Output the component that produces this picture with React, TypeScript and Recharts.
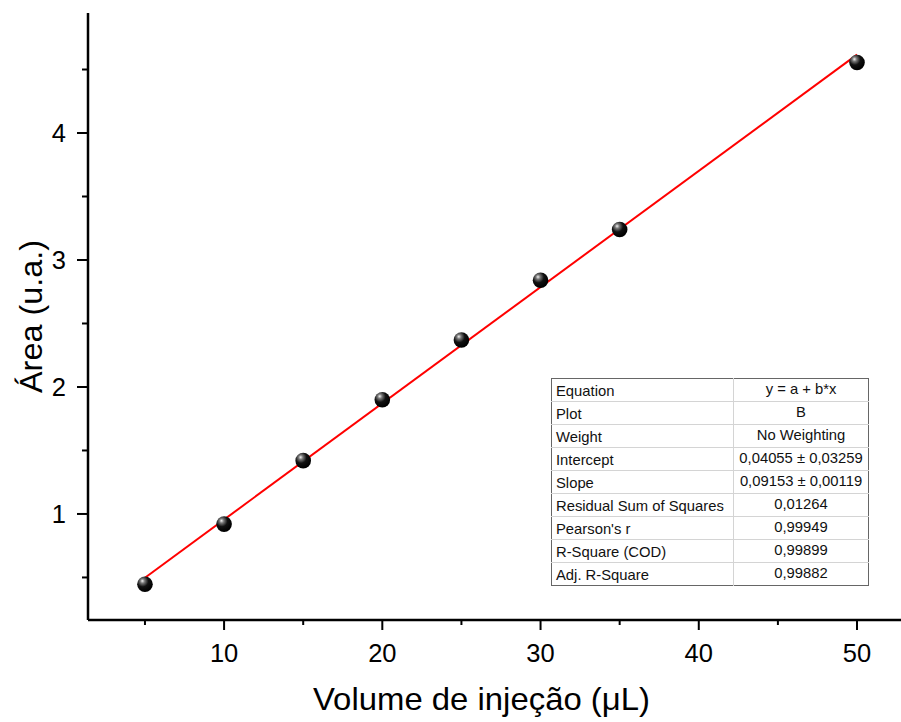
import React from "react";
import {
  ComposedChart,
  Scatter,
  Line,
  XAxis,
  YAxis,
} from "recharts";

// Measured points: injection volume (µL) vs. peak area (a.u.)
const volumes = [5, 10, 15, 20, 25, 30, 35, 50];
const areas = [0.446, 0.92, 1.42, 1.9, 2.37, 2.84, 3.24, 4.555];

// Linear fit parameters (y = a + b*x)
const intercept = 0.04055;
const slope = 0.09153;
const fitRange = [5, 50];

const xTicks = [5, 10, 15, 20, 25, 30, 35, 40, 45, 50];
const xLabelled = [10, 20, 30, 40, 50];
const yTicks = [0.5, 1, 1.5, 2, 2.5, 3, 3.5, 4, 4.5];
const yLabelled = [1, 2, 3, 4];

const xDomain = [1.4, 52.78];
const yDomain = [0.165, 4.945];

const xTitle = "Volume de injeção (μL)";
const yTitle = "Área (u.a.)";

const statRows = [
  ["Equation", "y = a + b*x"],
  ["Plot", "B"],
  ["Weight", "No Weighting"],
  ["Intercept", "0,04055 ± 0,03259"],
  ["Slope", "0,09153 ± 0,00119"],
  ["Residual Sum of Squares", "0,01264"],
  ["Pearson's r", "0,99949"],
  ["R-Square (COD)", "0,99899"],
  ["Adj. R-Square", "0,99882"],
];

const points = volumes.map((v, i) => ({ x: v, y: areas[i] }));
const fitLine = fitRange.map((v) => ({ x: v, y: intercept + slope * v }));

const FONT = "'Liberation Sans', Arial, sans-serif";

const Ball = (props: any) => {
  const { cx, cy, index } = props;
  if (cx == null || cy == null) return null;
  const id = `ballGrad${index}`;
  return (
    <g>
      <defs>
        <radialGradient id={id} cx="0.38" cy="0.32" r="0.65" fx="0.33" fy="0.28">
          <stop offset="0%" stopColor="#f2f2f2" />
          <stop offset="22%" stopColor="#777" />
          <stop offset="55%" stopColor="#111" />
          <stop offset="100%" stopColor="#000" />
        </radialGradient>
      </defs>
      <circle cx={cx} cy={cy} r={7.8} fill={`url(#${id})`} />
    </g>
  );
};

const XTick = (props: any) => {
  const { x, y, payload } = props;
  const major = xLabelled.includes(payload.value);
  return (
    <g>
      <line x1={x} x2={x} y1={y} y2={y + (major ? 10 : 5)} stroke="#000" strokeWidth={2} />
      {major && (
        <text x={x} y={y + 42} textAnchor="middle" fontSize={25.5} fontFamily={FONT} fill="#000">
          {payload.value}
        </text>
      )}
    </g>
  );
};

const YTick = (props: any) => {
  const { x, y, payload } = props;
  const major = yLabelled.includes(payload.value);
  return (
    <g>
      <line x1={x - (major ? 11 : 6)} x2={x} y1={y} y2={y} stroke="#000" strokeWidth={2} />
      {major && (
        <text x={x - 22} y={y + 9} textAnchor="end" fontSize={25.5} fontFamily={FONT} fill="#000">
          {payload.value}
        </text>
      )}
    </g>
  );
};

const XTitle = (props: any) => {
  const { viewBox } = props;
  const cx = viewBox.x + viewBox.width / 2 - 13;
  const y = viewBox.y + viewBox.height - 12;
  return (
    <text
      x={cx}
      y={y}
      textAnchor="middle"
      fontSize={32}
      fontFamily={FONT}
      fill="#000"
      textLength={337}
      lengthAdjust="spacingAndGlyphs"
    >
      {xTitle}
    </text>
  );
};

const YTitle = (props: any) => {
  const { viewBox } = props;
  const x = viewBox.x + 42;
  const cy = viewBox.y + viewBox.height / 2;
  return (
    <text
      x={x}
      y={cy}
      transform={`rotate(-90, ${x}, ${cy})`}
      textAnchor="middle"
      fontSize={32}
      fontFamily={FONT}
      fill="#000"
      textLength={153}
      lengthAdjust="spacingAndGlyphs"
    >
      {yTitle}
    </text>
  );
};

const StatsTable = () => (
  <table
    style={{
      position: "absolute",
      left: 551,
      top: 378,
      width: 318,
      borderCollapse: "collapse",
      fontFamily: FONT,
      fontSize: 14.8,
      color: "#111",
      border: "1.5px solid #666",
      background: "#fff",
    }}
  >
    <tbody>
      {statRows.map(([k, v], i) => (
        <tr key={k} style={{ height: 22.7 }}>
          <td
            style={{
              width: 177,
              padding: "2px 0 0 4px",
              borderTop: i === 0 ? "none" : "1px solid #d4d4d4",
              borderRight: "1px solid #d4d4d4",
              lineHeight: "20px",
              whiteSpace: "nowrap",
            }}
          >
            {k}
          </td>
          <td
            style={{
              textAlign: "center",
              padding: "0 0 2px 0",
              borderTop: i === 0 ? "none" : "1px solid #d4d4d4",
              lineHeight: "20px",
              whiteSpace: "nowrap",
            }}
          >
            {v}
          </td>
        </tr>
      ))}
    </tbody>
  </table>
);

export default function App() {
  return (
    <div style={{ position: "absolute", left: 0, top: 0, width: 901, height: 722, background: "#fff" }}>
      <ComposedChart
        width={901}
        height={722}
        margin={{ top: 13, right: 0, bottom: 0, left: 0 }}
      >
        <XAxis
          xAxisId="top"
          orientation="top"
          type="number"
          dataKey="x"
          domain={xDomain}
          allowDataOverflow
          height={0}
          tick={false}
          tickLine={false}
          axisLine={{ stroke: "#000", strokeWidth: 2.5 }}
        />
        <XAxis
          type="number"
          dataKey="x"
          domain={xDomain}
          allowDataOverflow
          ticks={xTicks}
          interval={0}
          height={102}
          tickSize={0}
          tickMargin={0}
          tickLine={false}
          tick={<XTick />}
          axisLine={{ stroke: "#000", strokeWidth: 2.5 }}
          label={<XTitle />}
        />
        <YAxis
          type="number"
          dataKey="y"
          domain={yDomain}
          allowDataOverflow
          ticks={yTicks}
          interval={0}
          width={88}
          tickSize={0}
          tickMargin={0}
          tickLine={false}
          tick={<YTick />}
          axisLine={{ stroke: "#000", strokeWidth: 2.5 }}
          label={<YTitle />}
        />
        <Line
          data={fitLine}
          dataKey="y"
          stroke="#ff0000"
          strokeWidth={2}
          dot={false}
          activeDot={false}
          isAnimationActive={false}
        />
        <Scatter data={points} dataKey="y" shape={<Ball />} isAnimationActive={false} />
      </ComposedChart>
      <StatsTable />
    </div>
  );
}
